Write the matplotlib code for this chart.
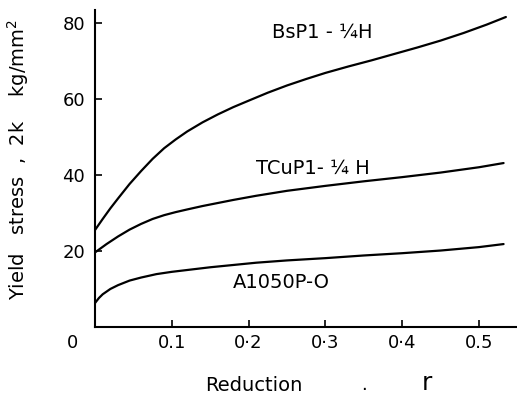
import matplotlib
matplotlib.use("Agg")
import matplotlib.pyplot as plt

# Data
r_bs = [0, 0.01, 0.02, 0.03, 0.045, 0.06, 0.075, 0.09, 0.105, 0.12, 0.14, 0.16, 0.18, 0.20,
        0.225, 0.25, 0.275, 0.30, 0.33, 0.36, 0.39, 0.42, 0.45, 0.48, 0.51, 0.535]
y_bs = [25.5, 28.4, 31.2, 33.8, 37.6, 41.0, 44.2, 47.0, 49.3, 51.4, 53.8, 55.9, 57.8, 59.5,
        61.6, 63.5, 65.2, 66.8, 68.5, 70.1, 71.8, 73.5, 75.3, 77.3, 79.5, 81.5]

r_tcu = [0, 0.015, 0.03, 0.045, 0.06, 0.075, 0.09, 0.105, 0.12, 0.14, 0.16, 0.18, 0.21,
         0.25, 0.30, 0.35, 0.40, 0.45, 0.50, 0.532]
y_tcu = [19.6, 21.8, 23.8, 25.6, 27.1, 28.4, 29.4, 30.2, 30.9, 31.8, 32.6, 33.4, 34.5,
         35.8, 37.1, 38.3, 39.4, 40.6, 42.0, 43.1]

r_al = [0, 0.005, 0.01, 0.02, 0.03, 0.045, 0.06, 0.08, 0.10, 0.125, 0.15, 0.18, 0.21,
        0.25, 0.30, 0.35, 0.40, 0.45, 0.50, 0.532]
y_al = [6.3, 7.6, 8.6, 10.0, 11.0, 12.2, 13.0, 13.9, 14.5, 15.1, 15.7, 16.3, 16.9,
        17.5, 18.1, 18.8, 19.4, 20.1, 21.0, 21.8]

xticks = [0.1, 0.2, 0.3, 0.4, 0.5]
xtick_labels = ["0.1", "0\u00b72", "0\u00b73", "0\u00b74", "0.5"]
yticks = [20, 40, 60, 80]
ytick_labels = ["20", "40", "60", "80"]

labels = ["BsP1 - \u00bcH", "TCuP1- \u00bc H", "A1050P-O"]
label_pos = [(0.23, 77.4), (0.21, 41.8), (0.179, 11.6)]

plt.rcParams["font.family"] = ["DejaVu Sans"]
fig = plt.figure(figsize=(5.17, 3.99), dpi=100)
ax = fig.add_axes([0.1838, 0.1805, 0.814, 0.795])

for r, y in [(r_bs, y_bs), (r_tcu, y_tcu), (r_al, y_al)]:
    ax.plot(r, y, color="black", lw=1.6, solid_capstyle="round", solid_joinstyle="round")

for t, (x, y) in zip(labels, label_pos):
    ax.text(x, y, t, fontsize=14, va="center", ha="left")

ax.set_xlim(0, 0.548)
ax.set_ylim(0, 83.4)
ax.set_xticks(xticks)
ax.set_xticklabels(xtick_labels)
ax.set_yticks(yticks)
ax.set_yticklabels(ytick_labels)
ax.tick_params(direction="in", length=5, width=1.2, labelsize=13)
ax.tick_params(axis="x", pad=5)
ax.tick_params(axis="y", pad=7)
for s in ["top", "right"]:
    ax.spines[s].set_visible(False)
for s in ["left", "bottom"]:
    ax.spines[s].set_linewidth(1.5)

ax.text(-0.029, -4.3, "0", fontsize=13, ha="center", va="center", clip_on=False)

fig.text(0.035, 0.6, "Yield   stress  ,  2k    kg/mm$^2$", rotation=90, fontsize=14, ha="center", va="center")
fig.text(0.49, 0.035, "Reduction", fontsize=14, ha="center", va="center")
fig.text(0.705, 0.012, ".", fontsize=13, ha="center", va="bottom")
fig.text(0.826, 0.04, "r", fontsize=18, ha="center", va="center")

fig.savefig("out.png", dpi=100)
